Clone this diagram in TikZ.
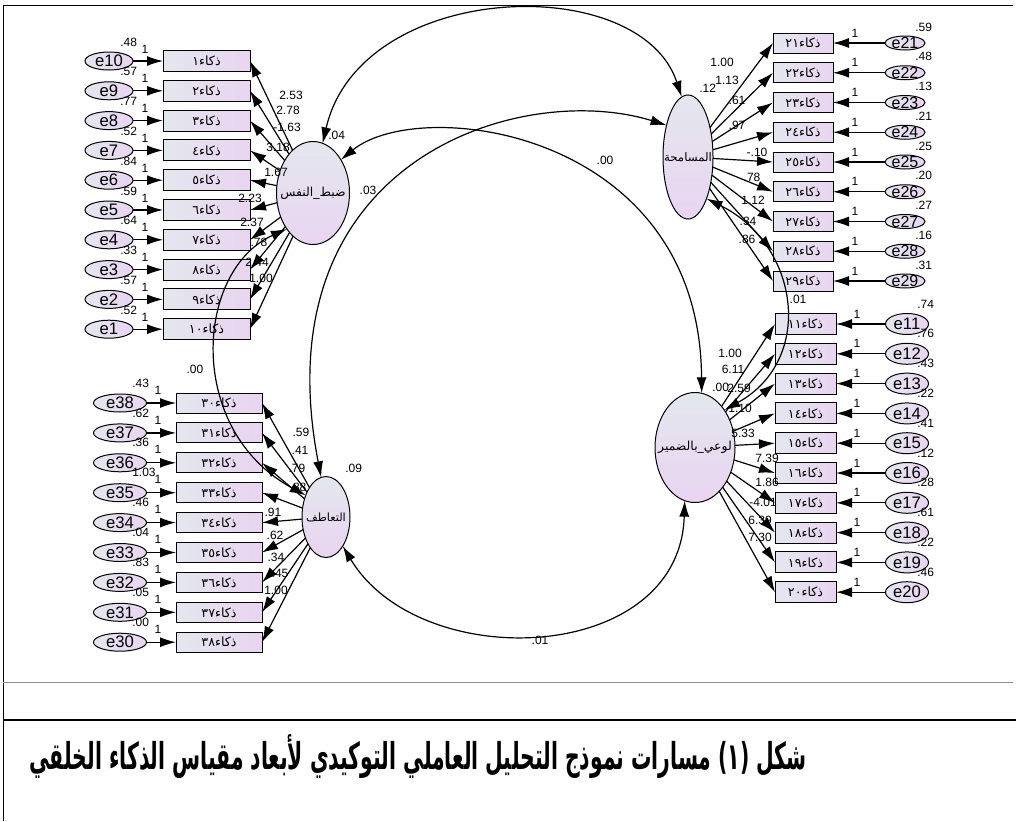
\documentclass[tikz,border=0pt]{standalone}
\usepackage{fontspec}
\usepackage{graphicx}
\setmainfont{Liberation Sans}
\newfontfamily\arabicfont[Script=Arabic]{DejaVu Sans}
\TeXXeTstate=1
\usetikzlibrary{arrows.meta,shapes.geometric}
\definecolor{gA}{HTML}{E4E7EE}
\definecolor{gB}{HTML}{E9D4F1}
\begin{document}
\begin{tikzpicture}[x=0.75pt,y=-0.75pt,
  ln/.style={line width=0.9pt,black},
  arr/.style={ln,-{Latex[length=12pt,width=7.5pt]}},
  cov/.style={ln,{Latex[length=12pt,width=7.5pt]}-{Latex[length=12pt,width=7.5pt]}},
  box/.style={draw,line width=0.75pt,rectangle,inner sep=0pt,outer sep=0pt,left color=gA,right color=gB,
    font=\arabicfont\fontsize{9.5}{10}\selectfont},
  boxL/.style={box,minimum width=65.25pt,minimum height=15.75pt},
  boxB/.style={box,minimum width=64.5pt,minimum height=15pt},
  boxR/.style={box,minimum width=45pt,minimum height=15pt},
  boxS/.style={box,minimum width=45.75pt,minimum height=15.75pt},
  err/.style={draw,ellipse,line width=0.75pt,inner sep=0pt,outer sep=0pt,left color=gA,right color=gB},
  errA/.style={err,minimum width=36pt,minimum height=13.5pt},
  errB/.style={err,minimum width=39.75pt,minimum height=13.5pt},
  errC/.style={err,minimum width=30pt,minimum height=10.5pt},
  errD/.style={err,minimum width=32.25pt,minimum height=15.75pt},
  etxt/.style={inner sep=0pt,font=\fontsize{12.5}{13}\selectfont},
  lat/.style={draw,ellipse,line width=0.75pt,inner sep=0pt,outer sep=0pt,top color=gA,bottom color=gB},
  lattxt/.style={inner sep=0pt,font=\arabicfont\fontsize{9.3}{10}\selectfont},
  num/.style={inner sep=0pt,font=\fontsize{9}{10}\selectfont}]
\useasboundingbox (0,0) rectangle (1016,821);

% frame and rules
\draw[line width=0.75pt] (3,5) -- (1013,5);
\draw[line width=0.75pt] (3,5) -- (3,821);
\draw[line width=0.75pt,black!45] (3,682) -- (1013,682);
\draw[line width=1.6pt] (3,720) -- (1016,720);

% latent factors
\node[lat,minimum width=54.75pt,minimum height=77.25pt] (sn) at (313,193) {};
\node[lattxt] at (sn) {\beginR ضبط\_النفس\endR};
\node[lat,minimum width=37.5pt,minimum height=93pt] (ms) at (688,157) {};
\node[lattxt,font=\arabicfont\fontsize{8.8}{10}\selectfont] at (ms) {\beginR المسامحة\endR};
\node[lat,minimum width=60pt,minimum height=82.5pt] (wb) at (695,447.5) {};
\node[lattxt] at (wb) {\beginR لوعي\_بالضمير\endR};
\node[lat,minimum width=36pt,minimum height=60.75pt] (tf) at (326,517) {};
\node[lattxt,font=\arabicfont\fontsize{8.5}{10}\selectfont] at (tf) {\beginR التعاطف\endR};

% factor variances
\node[num,anchor=west] at (328,135) {.04};
\node[num,anchor=west] at (699,88) {.12};
\node[num,anchor=west] at (712,387) {.00};
\node[num,anchor=west] at (345,468) {.09};

% items of the first factor
\foreach \i/\dg/\en/\vr in {1/١/10/.48,2/٢/9/.57,3/٣/8/.77,4/٤/7/.52,5/٥/6/.84,
    6/٦/5/.59,7/٧/4/.64,8/٨/3/.33,9/٩/2/.57,10/١٠/1/.52}{
  \pgfmathsetmacro\yy{61+29.8*(\i-1)}
  \node[boxL] (b\i) at (206.5,\yy) {\beginR ذكاء\dg\endR};
  \node[errA] (e\en) at (109,\yy) {};
  \node[etxt] at (e\en) {e\en};
  \draw[arr] (e\en) -- (b\i);
  \node[num] at (145,{\yy-12}) {1};
  \node[num,anchor=west] at (120,{\yy-19}) {\vr};
}
\foreach \i/\lx/\ly/\t in {1/291/95/2.53,2/288/110/2.78,3/287/127/-1.63,4/278/147/3.18,
    5/276/172/1.67,6/250/198/2.23,7/252/222/2.37,8/259/242/.78,9/257/262/2.44,10/261/278/1.00}{
  \draw[arr] (sn) -- (b\i.east);
  \node[num] at (\lx,\ly) {\t};
}

% items of the second factor
\foreach \i/\dg/\vr in {21/٢١/.59,22/٢٢/.48,23/٢٣/.13,24/٢٤/.21,25/٢٥/.25,
    26/٢٦/.20,27/٢٧/.27,28/٢٨/.16,29/٢٩/.31}{
  \pgfmathsetmacro\yy{43+29.75*(\i-21)}
  \node[boxR] (b\i) at (803,\yy) {\beginR ذكاء\dg\endR};
  \node[errC] (e\i) at (905,\yy) {};
  \node[etxt,font=\fontsize{12}{13}\selectfont] at (e\i) {e\i};
  \draw[arr] (e\i) -- (b\i);
  \node[num] at (855,{\yy-10}) {1};
  \node[num,anchor=west] at (915,{\yy-16}) {\vr};
}
\foreach \i/\lx/\ly/\t in {21/722/62/1.00,22/727/80/1.13,23/737/100/.61,24/737/125/.97,
    25/757/152/-.10,26/752/177/.78,27/753/200/1.12,28/748/221/.34,29/747/239/.86}{
  \draw[arr] (ms) -- (b\i.west);
  \node[num] at (\lx,\ly) {\t};
}

% items of the third factor
\foreach \i/\dg/\vr in {11/١١/.74,12/١٢/.76,13/١٣/.43,14/١٤/.22,15/١٥/.41,
    16/١٦/.12,17/١٧/.28,18/١٨/.61,19/١٩/.22,20/٢٠/.46}{
  \pgfmathsetmacro\yy{324+29.8*(\i-11)}
  \node[boxS] (b\i) at (805.5,\yy) {\beginR ذكاء\dg\endR};
  \node[errD] (e\i) at (907,\yy) {};
  \node[etxt] at (e\i) {e\i};
  \draw[arr] (e\i) -- (b\i);
  \node[num] at (857,{\yy-10}) {1};
  \node[num,anchor=west] at (917,{\yy-20}) {\vr};
}
\foreach \i/\lx/\ly/\t in {11/730/353/1.00,12/733/369/6.11,13/739/388/2.59,14/740/408/1.10,
    15/743/433/5.33,16/767/458/7.39,17/767/482/1.86,18/763/502/-4.01,19/760/520/6.39,20/760/537/7.30}{
  \draw[arr] (wb) -- (b\i.west);
  \node[num] at (\lx,\ly) {\t};
}

% items of the fourth factor
\foreach \i/\dg/\en/\vr in {30/٣٠/38/.43,31/٣١/37/.62,32/٣٢/36/.36,33/٣٣/35/1.03,
    34/٣٤/34/.46,35/٣٥/33/.04,36/٣٦/32/.83,37/٣٧/31/.05,38/٣٨/30/.00}{
  \pgfmathsetmacro\yy{403+29.9*(\i-30)}
  \node[boxB] (b\i) at (219,\yy) {\beginR ذكاء\dg\endR};
  \node[errB] (e\en) at (120,\yy) {};
  \node[etxt] at (e\en) {e\en};
  \draw[arr] (e\en) -- (b\i);
  \node[num] at (158,{\yy-13}) {1};
  \node[num,anchor=west] at (132,{\yy-20}) {\vr};
}
\foreach \i/\lx/\ly/\t in {30/301/432/.59,31/300/450/.41,32/297/468/.79,33/298/487/.88,
    34/273/512/.91,35/275/535/.62,36/276/557/.34,37/280/573/.45,38/276/590/1.00}{
  \draw[arr] (tf) -- (b\i.east);
  \node[num] at (\lx,\ly) {\t};
}

% factor covariances
\draw[cov] (sn.79) .. controls (360,-20) and (640,-30) .. (ms.96);
\draw[cov] (sn.50) .. controls (420,95) and (700,130) .. (wb.83);
\draw[cov] (ms.124) .. controls (520,80) and (260,160) .. (tf.97);
\draw[cov] (sn.234) .. controls (195,270) and (185,430) .. (tf.133);
\draw[cov] (tf.-60) .. controls (420,675) and (680,665) .. (wb.259);
\draw[cov] (ms.-66) .. controls (800,245) and (815,360) .. (wb.52);
\node[num] at (605,160) {.00};
\node[num] at (368,190) {.03};
\node[num] at (195,369) {.00};
\node[num] at (540,640) {.01};
\node[num] at (798,299) {.01};

% caption
\node[inner sep=0pt] (cap) at (418,757) {\resizebox*{583pt}{33pt}{\arabicfont\bfseries\beginR شكل (١) مسارات نموذج التحليل العاملي التوكيدي لأبعاد مقياس الذكاء الخلقي\endR}};
\end{tikzpicture}
\end{document}
